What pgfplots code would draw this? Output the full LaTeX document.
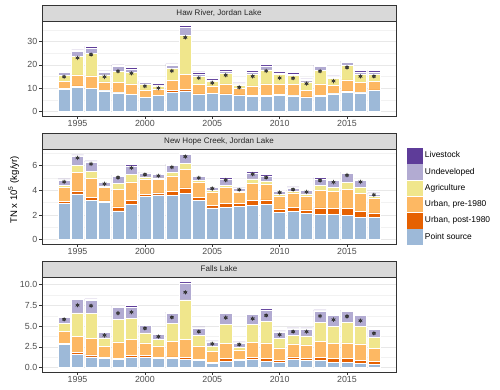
\documentclass[border=0pt]{standalone}
\usepackage{pgfplots}
\pgfplotsset{compat=1.18}
\usepackage{pgfplotstable}
\usepackage{fontspec}
\setmainfont{Liberation Sans}

\definecolor{cPS}{RGB}{157,185,216}
\definecolor{cPost}{RGB}{230,97,1}
\definecolor{cPre}{RGB}{253,184,99}
\definecolor{cAg}{RGB}{240,230,140}
\definecolor{cUnd}{RGB}{178,171,210}
\definecolor{cLive}{RGB}{94,60,153}
\definecolor{gray20}{RGB}{51,51,51}
\definecolor{gray30}{RGB}{77,77,77}
\definecolor{stripgray}{RGB}{217,217,217}

% year, point source, urban post-1980, urban pre-1980, agriculture, undeveloped, livestock, observed
\pgfplotstableread{
year ps post pre ag und live obs
1994 9.6 0.2 3.3 2.5 1.1 0.6 14.9
1995 10.4 0.6 4.7 7.9 2.1 0.7 23.0
1996 9.9 0.2 5.2 9.7 2.1 0.8 24.4
1997 8.9 0.1 3.7 3.0 1.0 0.7 14.9
1998 8.0 0.3 4.1 4.7 2.2 0.7 17.3
1999 7.3 0.1 4.5 4.8 1.4 0.9 16.4
2000 6.0 0.1 3.2 2.3 0.8 0.6 10.9
2001 7.0 0.1 2.6 1.3 0.4 0.6 10.1
2002 8.4 0.6 4.3 5.1 1.3 0.7 17.4
2003 8.9 0.7 6.3 16.8 3.3 0.9 31.7
2004 7.3 0.3 4.1 3.4 1.0 0.9 14.4
2005 7.7 0.1 3.2 1.9 0.7 0.5 12.3
2006 7.3 0.3 4.3 4.5 1.0 0.7 15.6
2007 7.1 0.1 2.9 1.3 0.5 0.4 10.4
2008 6.4 0.5 4.1 5.1 0.9 0.6 15.1
2009 6.4 0.6 4.9 6.0 1.7 0.7 17.4
2010 6.9 0.4 4.3 4.3 0.7 0.5 14.4
2011 6.7 0.4 4.5 4.0 0.5 0.6 14.3
2012 6.0 0.3 2.8 3.6 0.7 0.6 12.0
2013 6.4 0.6 4.9 5.8 1.6 0.6 17.3
2014 7.6 0.1 3.4 3.2 0.6 0.4 13.1
2015 8.1 0.8 4.7 6.1 1.3 0.6 18.9
2016 8.0 0.4 4.0 3.7 0.9 0.7 15.1
2017 9.0 0.3 3.7 3.1 0.9 0.7 15.1
}\haw

\pgfplotstableread{
year ps post pre ag und live obs
1994 2.93 0.16 1.13 0.19 0.43 0.08 4.68
1995 3.71 0.24 1.48 0.60 0.75 0.08 6.62
1996 3.17 0.27 1.51 0.59 0.76 0.08 6.13
1997 3.01 0.14 1.10 0.11 0.27 0.08 4.52
1998 2.34 0.32 1.40 0.49 0.59 0.08 5.03
1999 2.85 0.32 1.51 0.59 0.70 0.11 5.81
2000 3.50 0.19 1.18 0.21 0.33 0.05 5.27
2001 3.63 0.16 1.11 0.10 0.30 0.05 5.17
2002 3.58 0.32 1.27 0.29 0.57 0.08 5.87
2003 3.77 0.43 1.48 0.51 0.72 0.08 6.73
2004 3.17 0.27 1.24 0.14 0.32 0.08 5.00
2005 2.58 0.22 1.07 0.11 0.27 0.08 4.14
2006 2.64 0.32 1.29 0.16 0.51 0.11 4.82
2007 2.72 0.19 0.91 0.08 0.24 0.06 4.04
2008 2.80 0.37 1.40 0.35 0.49 0.11 5.30
2009 2.88 0.35 1.26 0.22 0.46 0.10 5.03
2010 2.23 0.27 1.05 0.14 0.26 0.06 3.82
2011 2.29 0.32 1.18 0.14 0.27 0.08 4.06
2012 2.13 0.29 1.13 0.16 0.27 0.08 3.87
2013 2.07 0.51 1.43 0.38 0.53 0.11 4.79
2014 2.04 0.52 1.37 0.32 0.54 0.11 4.65
2015 1.94 0.62 1.53 0.54 0.72 0.11 5.22
2016 1.78 0.53 1.43 0.48 0.57 0.11 4.68
2017 1.83 0.35 1.16 0.16 0.21 0.08 3.63
}\newhope

\pgfplotstableread{
year ps post pre ag und live obs
1994 2.79 0.16 1.43 0.96 0.72 0.16 5.82
1995 1.59 0.24 1.92 2.86 1.60 0.16 7.53
1996 1.31 0.24 2.00 3.02 1.52 0.20 7.45
1997 1.12 0.12 1.35 1.00 0.67 0.12 3.90
1998 0.96 0.20 1.95 2.67 1.51 0.12 6.57
1999 1.27 0.24 1.92 2.47 1.39 0.20 6.69
2000 1.27 0.20 1.52 1.19 0.88 0.08 4.74
2001 1.16 0.11 1.36 0.76 0.59 0.12 3.75
2002 1.08 0.23 1.84 2.15 1.27 0.12 6.06
2003 0.96 0.31 2.16 4.74 2.03 0.20 9.08
2004 0.88 0.16 1.59 1.23 0.92 0.12 4.34
2005 0.52 0.12 1.31 0.64 0.52 0.12 2.87
2006 0.80 0.28 1.87 2.27 1.35 0.12 6.02
2007 0.88 0.12 1.15 0.28 0.56 0.12 2.79
2008 0.96 0.28 1.83 2.11 1.23 0.12 5.90
2009 0.80 0.28 1.91 2.59 1.39 0.20 6.29
2010 0.64 0.24 1.51 1.16 0.75 0.12 3.98
2011 1.04 0.27 1.56 1.03 0.76 0.12 4.34
2012 0.88 0.24 1.63 1.07 0.84 0.12 4.34
2013 0.84 0.40 1.91 2.35 1.35 0.12 6.22
2014 0.64 0.48 1.79 2.11 1.27 0.12 5.78
2015 0.64 0.44 1.91 2.43 1.39 0.12 6.18
2016 0.56 0.36 1.95 2.15 1.27 0.12 5.66
2017 0.40 0.32 1.59 1.36 0.95 0.12 4.14
}\falls

\pgfplotsset{
  panel/.style={
    scale only axis, width=8.85cm, height=2.375cm,
    anchor=north west,
    xmin=1992.36, xmax=2018.64,
    xtick={1995,2000,2005,2010,2015},
    ybar stacked, bar width=0.9,
    axis line style={gray20, line width=0.45pt},
    tick align=outside, tick pos=left,
    major tick length=2pt, minor tick length=0pt,
    tick style={gray20, line width=0.45pt},
    ymajorgrids, yminorgrids,
    major grid style={black!9, line width=0.45pt},
    minor grid style={black!5, line width=0.25pt},
    ticklabel style={font=\fontsize{6.3}{7}\selectfont, text=gray30, inner sep=1.2pt},
    /pgf/number format/1000 sep={},
    /pgf/number format/assume math mode=true,
  },
}

\newcommand\stackof[1]{%
  \addplot[fill=cPS, draw=white, line width=0.35pt] table[x=year, y=ps]{#1};
  \addplot[fill=cPost, draw=white, line width=0.35pt] table[x=year, y=post]{#1};
  \addplot[fill=cPre, draw=white, line width=0.35pt] table[x=year, y=pre]{#1};
  \addplot[fill=cAg, draw=white, line width=0.35pt] table[x=year, y=ag]{#1};
  \addplot[fill=cUnd, draw=white, line width=0.35pt] table[x=year, y=und]{#1};
  \addplot[fill=cLive, draw=white, line width=0.35pt] table[x=year, y=live]{#1};
  \addplot[stack plots=false, only marks, forget plot, mark=asterisk, mark size=1.6pt,
    mark options={draw=black!75, line width=0.4pt}] table[x=year, y=obs]{#1};
  \addplot[stack plots=false, only marks, forget plot, mark=*, mark size=0.9pt,
    mark options={fill=black, draw=black}] table[x=year, y=obs]{#1};
}

\newcommand\strip[2]{%
  \draw[fill=stripgray, draw=gray20, line width=0.45pt] (#1.north west) rectangle ([yshift=0.4cm]#1.north east);
  \node[font=\fontsize{5.7}{6.5}\selectfont, text=black!85] at ([yshift=0.2cm]#1.north) {#2};
}

\begin{document}
\begin{tikzpicture}
\useasboundingbox (0,0) rectangle (12.5cm,-9.725cm);

\begin{axis}[panel, name=p1, at={(1.05cm,-0.525cm)},
  ymin=-1.85, ymax=38.75, ytick={0,10,20,30}, minor ytick={5,15,25,35}]
\stackof{\haw}
\end{axis}
\strip{p1}{Haw River, Jordan Lake}

\begin{axis}[panel, name=p2, at={(1.05cm,-3.725cm)},
  ymin=-0.35, ymax=7.34, ytick={0,2,4,6}, minor ytick={1,3,5,7},
  reverse legend,
  legend style={at={(1.031,0.5)}, anchor=west, draw=none, fill=none,
    font=\fontsize{6}{7}\selectfont, row sep=0.5pt, inner sep=0pt,
    nodes={inner sep=1.5pt}},
  legend cell align=left,
  legend image code/.code={\fill[#1, draw=none] (0cm,-0.195cm) rectangle (0.39cm,0.195cm);}]
\stackof{\newhope}
\legend{Point source,{Urban, post-1980},{Urban, pre-1980},Agriculture,Undeveloped,Livestock}
\end{axis}
\strip{p2}{New Hope Creek, Jordan Lake}

\begin{axis}[panel, name=p3, at={(1.05cm,-6.925cm)},
  ymin=-0.52, ymax=10.92, ytick={0,2.5,5,7.5,10}, minor ytick={1.25,3.75,6.25,8.75},
  yticklabel style={/pgf/number format/.cd, fixed, fixed zerofill, precision=1}]
\stackof{\falls}
\end{axis}
\strip{p3}{Falls Lake}

\node[rotate=90, font=\fontsize{6.8}{8}\selectfont] at (0.34cm,-4.75cm) {TN x 10\textsuperscript{5} (kg/yr)};
\end{tikzpicture}
\end{document}
